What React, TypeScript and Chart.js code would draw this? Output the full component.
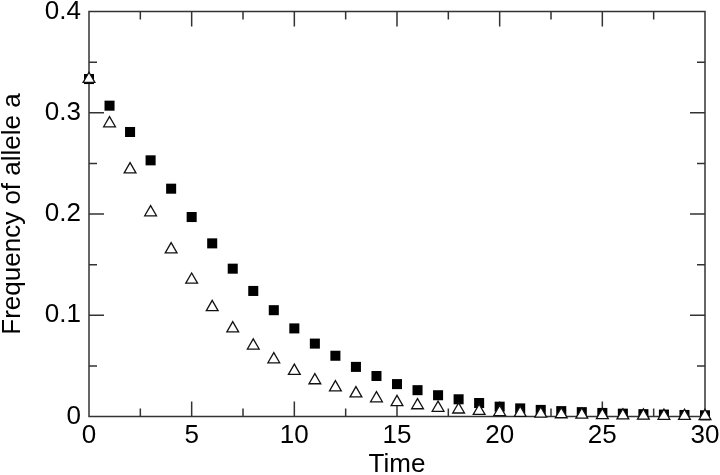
import React, { useEffect, useRef } from "react";
import { Chart, registerables } from "chart.js";

Chart.register(...registerables);

const timeSteps = Array.from({ length: 31 }, (_, i) => i);

const squareSeries = [
  0.3333, 0.307, 0.281, 0.253, 0.225, 0.197, 0.171, 0.146, 0.124, 0.105,
  0.087, 0.072, 0.06, 0.049, 0.04, 0.032, 0.026, 0.021, 0.017, 0.0133,
  0.0097, 0.008, 0.0065, 0.0053, 0.0043, 0.0035, 0.0028, 0.0023, 0.0019,
  0.0015, 0.0012,
];

const triangleSeries = [
  0.3333, 0.2895, 0.244, 0.2016, 0.165, 0.135, 0.108, 0.087, 0.07, 0.0564,
  0.045, 0.0357, 0.0287, 0.0228, 0.0179, 0.0141, 0.011, 0.0085, 0.0068,
  0.0054, 0.0043, 0.0034, 0.0027, 0.0021, 0.0017, 0.0013, 0.001, 0.0008,
  0.0006, 0.0005, 0.0004,
];

const xTitle = "Time";
const yTitle = "Frequency of allele a";

const FONT = "'Liberation Sans', Arial, Helvetica, sans-serif";

const framePlugin = {
  id: "frameTicks",
  beforeDatasetsDraw(chart: any) {
    const { ctx, chartArea, scales } = chart;
    const { left, right, top, bottom } = chartArea;
    const xs = scales.x;
    const ys = scales.y;
    const MAJOR = 15;
    const MINOR = 8;
    ctx.save();
    ctx.strokeStyle = "#333";
    ctx.lineWidth = 1.5;
    ctx.strokeRect(left, top, right - left, bottom - top);
    ctx.beginPath();
    const xt = xs.ticks.map((t: any) => t.value);
    for (let i = 0; i < xt.length; i++) {
      const v = xt[i];
      const px = xs.getPixelForValue(v);
      if (i > 0 && i < xt.length - 1) {
        ctx.moveTo(px, bottom);
        ctx.lineTo(px, bottom - MAJOR);
        ctx.moveTo(px, top);
        ctx.lineTo(px, top + MAJOR);
      }
      if (i < xt.length - 1) {
        const pm = xs.getPixelForValue((v + xt[i + 1]) / 2);
        ctx.moveTo(pm, bottom);
        ctx.lineTo(pm, bottom - MINOR);
        ctx.moveTo(pm, top);
        ctx.lineTo(pm, top + MINOR);
      }
    }
    const yt = ys.ticks.map((t: any) => t.value);
    for (let i = 0; i < yt.length; i++) {
      const v = yt[i];
      const py = ys.getPixelForValue(v);
      if (i > 0 && i < yt.length - 1) {
        ctx.moveTo(left, py);
        ctx.lineTo(left + MAJOR, py);
        ctx.moveTo(right, py);
        ctx.lineTo(right - MAJOR, py);
      }
      if (i < yt.length - 1) {
        const pm = ys.getPixelForValue((v + yt[i + 1]) / 2);
        ctx.moveTo(left, pm);
        ctx.lineTo(left + MINOR, pm);
        ctx.moveTo(right, pm);
        ctx.lineTo(right - MINOR, pm);
      }
    }
    ctx.stroke();
    ctx.restore();
  },
};

export default function App() {
  const ref = useRef<HTMLCanvasElement | null>(null);

  useEffect(() => {
    if (!ref.current) return;
    const chart = new Chart(ref.current, {
      type: "scatter",
      data: {
        datasets: [
          {
            label: "triangles",
            data: timeSteps.map((t, i) => ({ x: t, y: triangleSeries[i] })),
            pointStyle: "triangle",
            pointRadius: 6.8,
            pointBackgroundColor: "#ffffff",
            pointBorderColor: "#111111",
            pointBorderWidth: 1.3,
            clip: false as any,
          },
          {
            label: "squares",
            data: timeSteps.map((t, i) => ({ x: t, y: squareSeries[i] })),
            pointStyle: "rect",
            pointRadius: 7.1,
            pointBackgroundColor: "#000000",
            pointBorderColor: "#000000",
            pointBorderWidth: 0,
            clip: false as any,
          },
        ],
      },
      options: {
        animation: false,
        responsive: false,
        devicePixelRatio: 1,
        layout: { padding: { left: 0, right: 15, top: 11.5, bottom: 0 } },
        plugins: {
          legend: { display: false },
          tooltip: { enabled: false },
        },
        scales: {
          x: {
            type: "linear",
            min: 0,
            max: 30,
            ticks: {
              stepSize: 5,
              color: "#000",
              padding: 4,
              font: { family: FONT, size: 26 },
              maxRotation: 0,
            },
            grid: { display: false, drawTicks: false },
            border: { display: false },
            title: {
              display: true,
              text: xTitle,
              color: "#000",
              font: { family: FONT, size: 26, lineHeight: 0.85 },
              padding: { top: 0, bottom: -1 },
            },
            afterFit: (s: any) => {
              s.height = 58.5;
              s.paddingLeft = 0;
              s.paddingRight = 0;
              s.paddingTop = 0;
              s.paddingBottom = 0;
            },
          },
          y: {
            type: "linear",
            min: 0,
            max: 0.4,
            ticks: {
              stepSize: 0.1,
              color: "#000",
              padding: 8,
              font: { family: FONT, size: 26 },
            },
            grid: { display: false, drawTicks: false },
            border: { display: false },
            title: {
              display: true,
              text: yTitle,
              color: "#000",
              font: { family: FONT, size: 26, lineHeight: 0.85 },
              padding: { top: 1.5, bottom: 0 },
            },
            afterFit: (s: any) => {
              s.width = 89;
              s.paddingLeft = 0;
              s.paddingRight = 0;
              s.paddingTop = 0;
              s.paddingBottom = 0;
            },
          },
        },
      },
      plugins: [framePlugin],
    });
    return () => chart.destroy();
  }, []);

  return (
    <div
      style={{
        position: "fixed",
        left: 0,
        top: 0,
        width: 720,
        height: 475,
        background: "#fff",
      }}
    >
      <canvas ref={ref} width={720} height={475} style={{ width: 720, height: 475 }} />
    </div>
  );
}
